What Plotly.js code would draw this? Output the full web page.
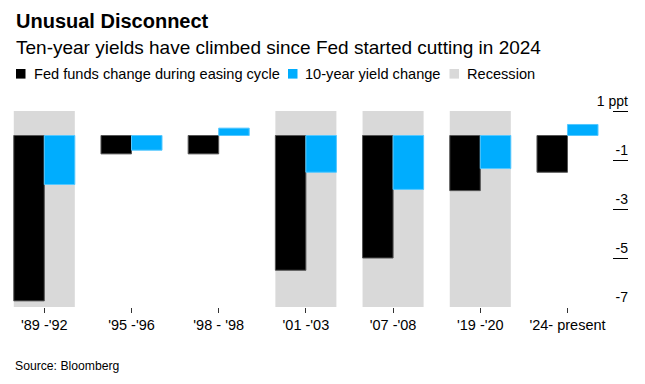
<!DOCTYPE html>
<html>
<head>
<meta charset="utf-8">
<script src="https://cdn.plot.ly/plotly-3.0.1.min.js"></script>
<style>html,body{margin:0;padding:0;background:#fff;}#chart{width:645px;height:384px;}</style>
</head>
<body>
<div id="chart"></div>
<script>
// ---- data ----
const categories = ["'89 -'92", "'95 -'96", "'98 - '98", "'01 -'03", "'07 -'08", "'19 -'20", "'24- present"];
const fedFundsChange = [-6.75, -0.75, -0.75, -5.5, -5.0, -2.25, -1.5];
const tenYearChange = [-2.0, -0.6, 0.3, -1.5, -2.2, -1.35, 0.45];
const recessionFlag = [true, false, false, true, true, true, false];
const yTickVals = [1, -1, -3, -5, -7];
const yTickText = ['1 ppt', '-1', '-3', '-5', '-7'];
const seriesNames = ['Fed funds change during easing cycle', '10-year yield change', 'Recession'];
const seriesColors = ['#000000', '#00adfe', '#d9d9d9'];

// ---- layout constants ----
const recBottom = -7, recTop = 1;
const yRange = [-7, 1.939];
const FONT = 'Liberation Sans, Arial, sans-serif';
const plotW = 628, plotH = 219, mt = 88;
const px = v => v / plotW;               // pixel x -> paper
const py = v => (mt + plotH - v) / plotH; // pixel y -> paper

const recBase = recessionFlag.map(f => f ? recBottom : null);
const recHeight = recessionFlag.map(f => f ? (recTop - recBottom) : null);

const traces = [
  {
    type: 'bar', name: seriesNames[2], x: categories, y: recHeight, base: recBase,
    width: 0.7, offset: -0.35,
    marker: {color: seriesColors[2], line: {width: 0}}, hoverinfo: 'skip'
  },
  {
    type: 'bar', name: seriesNames[0], x: categories, y: fedFundsChange,
    width: 0.35, offset: -0.35,
    marker: {color: seriesColors[0], line: {color: '#555555', width: 1}}
  },
  {
    type: 'bar', name: seriesNames[1], x: categories, y: tenYearChange,
    width: 0.35, offset: 0,
    marker: {color: seriesColors[1], line: {color: '#55c8ff', width: 1}}
  }
];

// legend (custom, to match compact spacing)
const legendSquareX = [16, 288, 449.5];
const legendTextX = [32, 303, 464.5];
const legendCY = 73.8;
const shapes = seriesNames.map((n, i) => ({
  type: 'rect', xref: 'paper', yref: 'paper',
  x0: px(legendSquareX[i]), x1: px(legendSquareX[i] + 9.5),
  y0: py(legendCY - 4.8), y1: py(legendCY + 4.8),
  fillcolor: seriesColors[i], line: {width: 0}
}));
const legendAnns = seriesNames.map((n, i) => ({
  text: n, xref: 'paper', yref: 'paper', x: px(legendTextX[i]), y: py(legendCY),
  xanchor: 'left', yanchor: 'middle', showarrow: false,
  font: {size: 14.6, family: FONT, color: '#000'}
}));

const layout = {
  width: 645, height: 384,
  margin: {l: 0, r: 645 - plotW, t: mt, b: 384 - mt - plotH, pad: 0},
  paper_bgcolor: '#ffffff', plot_bgcolor: '#ffffff',
  font: {family: FONT, color: '#000000', size: 14},
  barmode: 'overlay',
  showlegend: false,
  xaxis: {
    type: 'category', range: [-0.508, 6.694], fixedrange: true,
    showgrid: false, zeroline: false, showline: false,
    ticks: 'outside', ticklen: 5, tickwidth: 1, tickcolor: '#333333',
    tickfont: {size: 14.5, family: FONT, color: '#000'}
  },
  yaxis: {
    range: yRange, side: 'right', fixedrange: true,
    showgrid: false, zeroline: false, showline: false,
    tickvals: yTickVals, ticktext: yTickText,
    ticks: 'inside', ticklen: 15, tickwidth: 1, tickcolor: '#000000',
    ticklabelposition: 'inside top', ticklabelstandoff: -3,
    tickfont: {size: 14, family: FONT, color: '#000'}
  },
  shapes: shapes,
  annotations: [
    {text: '<b>Unusual Disconnect</b>', xref: 'paper', yref: 'paper', x: px(14), y: py(21),
     xanchor: 'left', yanchor: 'middle', showarrow: false, font: {size: 20, family: FONT, color: '#000'}},
    {text: 'Ten-year yields have climbed since Fed started cutting in 2024', xref: 'paper', yref: 'paper',
     x: px(14), y: py(47.5), xanchor: 'left', yanchor: 'middle', showarrow: false,
     font: {size: 19, family: FONT, color: '#000'}},
    {text: 'Source: Bloomberg', xref: 'paper', yref: 'paper', x: px(13), y: py(365.5),
     xanchor: 'left', yanchor: 'middle', showarrow: false, font: {size: 12.2, family: FONT, color: '#000'}}
  ].concat(legendAnns)
};

Plotly.newPlot('chart', traces, layout, {displayModeBar: false, staticPlot: true});
</script>
</body>
</html>
